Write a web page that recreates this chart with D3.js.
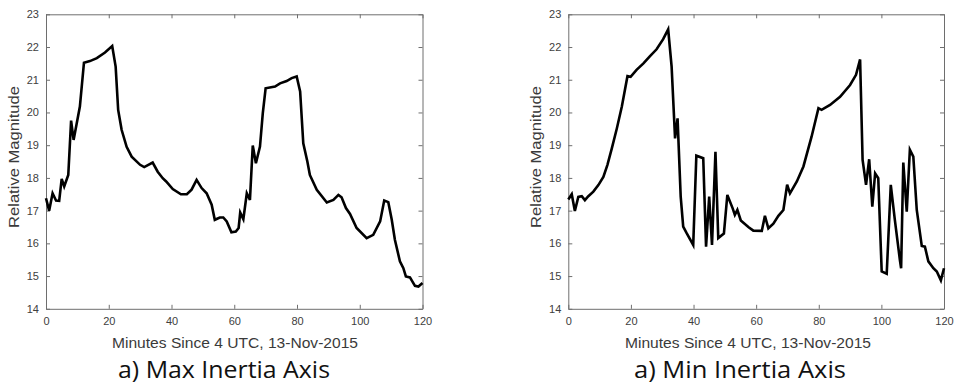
<!DOCTYPE html>
<html>
<head>
<meta charset="utf-8">
<script src="https://cdn.jsdelivr.net/npm/d3@7"></script>
<style>
  html, body { margin: 0; padding: 0; background: #fff; }
  svg { display: block; }
</style>
</head>
<body>
<svg id="chart" width="954" height="386"></svg>
<script>
// Minutes since 04:00 UTC and relative magnitude, max inertia axis
const maxMinutes = [0, 1, 2.1, 3.2, 4.2, 5, 5.8, 7.1, 8, 8.8, 10.8, 12.1, 14, 16.2, 18.8, 21.1, 22.2, 23, 24.1, 25.7, 27.3, 30, 31.3, 34, 35.6, 37.2, 38.3, 40.4, 43, 44.9, 46.4, 48, 49.6, 51.2, 52.8, 53.8, 55.4, 56.5, 57.6, 59.1, 60.5, 61.4, 61.9, 62.9, 64, 65, 65.9, 66.9, 68.2, 69.1, 70, 73, 74.6, 76.7, 78.3, 79.9, 81, 82, 83.3, 84.1, 86.3, 89.5, 91.6, 93.2, 94.2, 95.6, 96.9, 99, 102.2, 104.3, 106.5, 107.8, 109.1, 110.2, 111.2, 112.8, 113.9, 114.7, 116, 117.6, 118.7, 120];
const maxValues  = [17.38, 17.0, 17.53, 17.31, 17.3, 17.97, 17.74, 18.09, 19.75, 19.16, 20.18, 21.52, 21.57, 21.66, 21.83, 22.03, 21.4, 20.08, 19.47, 18.95, 18.65, 18.4, 18.33, 18.47, 18.19, 17.99, 17.89, 17.66, 17.5, 17.5, 17.64, 17.94, 17.69, 17.53, 17.18, 16.72, 16.79, 16.79, 16.67, 16.34, 16.36, 16.47, 16.94, 16.74, 17.53, 17.33, 18.99, 18.45, 18.96, 19.98, 20.74, 20.79, 20.89, 20.96, 21.05, 21.1, 20.64, 19.06, 18.5, 18.09, 17.64, 17.25, 17.33, 17.48, 17.41, 17.08, 16.9, 16.47, 16.16, 16.26, 16.67, 17.31, 17.26, 16.72, 16.11, 15.45, 15.24, 14.99, 14.96, 14.7, 14.68, 14.79];

// Minutes since 04:00 UTC and relative magnitude, min inertia axis
const minMinutes = [0, 1.1, 2.1, 3.2, 4.3, 5.3, 6.4, 8, 9.6, 11.2, 12.5, 13.9, 15.5, 17.1, 18.9, 19.9, 21.8, 24, 26.1, 28.2, 30.3, 31.9, 33, 34.1, 34.9, 35.9, 36.7, 37.8, 39.9, 40.9, 43.1, 44, 45, 45.9, 47, 47.9, 49.7, 50.8, 52.5, 53.2, 54, 55.1, 57.5, 59.1, 61.8, 62.8, 63.9, 65.5, 67.1, 68.7, 69.9, 70.8, 73, 75.1, 77.7, 79.9, 80.9, 83.6, 86.8, 90, 91.9, 93.2, 94, 95.1, 96.1, 97.1, 98, 99, 100.1, 101.7, 103, 104.3, 105.9, 106.3, 107, 108.1, 109.1, 110.2, 111.3, 112.9, 113.9, 115, 116.6, 117.7, 119, 120];
const minValues  = [17.34, 17.5, 16.99, 17.42, 17.44, 17.32, 17.44, 17.58, 17.78, 18.03, 18.4, 18.9, 19.51, 20.18, 21.11, 21.09, 21.3, 21.5, 21.72, 21.93, 22.24, 22.54, 21.4, 19.21, 19.82, 17.43, 16.51, 16.31, 15.95, 18.68, 18.6, 15.9, 17.43, 15.95, 18.8, 16.16, 16.3, 17.48, 17.07, 16.87, 17.02, 16.7, 16.5, 16.39, 16.38, 16.84, 16.46, 16.6, 16.84, 17.02, 17.79, 17.53, 17.89, 18.35, 19.26, 20.13, 20.08, 20.23, 20.48, 20.84, 21.15, 21.62, 18.55, 17.79, 18.57, 17.12, 18.14, 17.99, 15.14, 15.07, 17.79, 16.72, 15.5, 15.24, 18.47, 16.97, 18.86, 18.65, 17.02, 15.92, 15.9, 15.45, 15.24, 15.14, 14.87, 15.24];

const xTicks = [0, 20, 40, 60, 80, 100, 120];
const yTicks = [14, 15, 16, 17, 18, 19, 20, 21, 22, 23];
const xLabel = "Minutes Since 4 UTC, 13-Nov-2015";
const yLabel = "Relative Magnitude";
const captions = ["a) Max Inertia Axis", "a) Min Inertia Axis"];

const svg = d3.select("#chart");
const axisColor = "#6e6e6e";
const tickText = "#404040";

// Two side-by-side panels; label centres are set per panel
const panels = [
  { left: 46, right: 422.5, minutes: maxMinutes, values: maxValues, caption: captions[0], xLabelX: 235, captionX: 224 },
  { left: 568.3, right: 944, minutes: minMinutes, values: minValues, caption: captions[1], xLabelX: 748, captionX: 740 }
];
const plotTop = 14.3, plotBottom = 308.8;

panels.forEach(p => {
  const x = d3.scaleLinear().domain([0, 120]).range([p.left, p.right]);
  const y = d3.scaleLinear().domain([14, 23]).range([plotBottom, plotTop]);
  const g = svg.append("g");

  const tickLen = 4;
  const bottomAxis = g.append("g").attr("transform", `translate(0,${plotBottom})`)
    .call(d3.axisBottom(x).tickValues(xTicks).tickSizeInner(-tickLen).tickSizeOuter(0).tickPadding(8));
  const topAxis = g.append("g").attr("transform", `translate(0,${plotTop})`)
    .call(d3.axisTop(x).tickValues(xTicks).tickSizeInner(-tickLen).tickSizeOuter(0).tickFormat(""));
  const leftAxis = g.append("g").attr("transform", `translate(${p.left},0)`)
    .call(d3.axisLeft(y).tickValues(yTicks).tickSizeInner(-tickLen).tickSizeOuter(0).tickPadding(7));
  const rightAxis = g.append("g").attr("transform", `translate(${p.right},0)`)
    .call(d3.axisRight(y).tickValues(yTicks).tickSizeInner(-tickLen).tickSizeOuter(0).tickFormat(""));

  [bottomAxis, topAxis, leftAxis, rightAxis].forEach(a => {
    a.select(".domain").attr("stroke", axisColor).attr("stroke-width", 1);
    a.selectAll(".tick line").attr("stroke", axisColor).attr("stroke-width", 1);
    a.selectAll(".tick text")
      .attr("fill", tickText)
      .style("font-family", "'Liberation Sans', Arial, sans-serif")
      .style("font-size", "11px");
  });

  const line = d3.line()
    .x((d, i) => x(p.minutes[i]))
    .y(d => y(d));

  g.append("path")
    .datum(p.values)
    .attr("d", line)
    .attr("fill", "none")
    .attr("stroke", "#000")
    .attr("stroke-width", 2.6)
    .attr("stroke-linejoin", "miter")
    .attr("stroke-miterlimit", 4);

  g.append("text")
    .attr("x", p.xLabelX).attr("y", 347.5)
    .attr("text-anchor", "middle")
    .attr("fill", "#3a3a3a")
    .attr("textLength", 246)
    .attr("lengthAdjust", "spacingAndGlyphs")
    .style("font-family", "'Liberation Sans', Arial, sans-serif")
    .style("font-size", "14px")
    .text(xLabel);

  g.append("text")
    .attr("transform", `translate(${p.left - 27},157) rotate(-90)`)
    .attr("text-anchor", "middle")
    .attr("fill", "#3a3a3a")
    .attr("textLength", 142)
    .attr("lengthAdjust", "spacingAndGlyphs")
    .style("font-family", "'Liberation Sans', Arial, sans-serif")
    .style("font-size", "14px")
    .text(yLabel);

  g.append("text")
    .attr("x", p.captionX).attr("y", 378)
    .attr("text-anchor", "middle")
    .attr("fill", "#111")
    .attr("textLength", 212)
    .attr("lengthAdjust", "spacingAndGlyphs")
    .style("font-family", "'Open Sans', 'Noto Sans', sans-serif")
    .style("font-size", "23.5px")
    .text(p.caption);
});
</script>
</body>
</html>
